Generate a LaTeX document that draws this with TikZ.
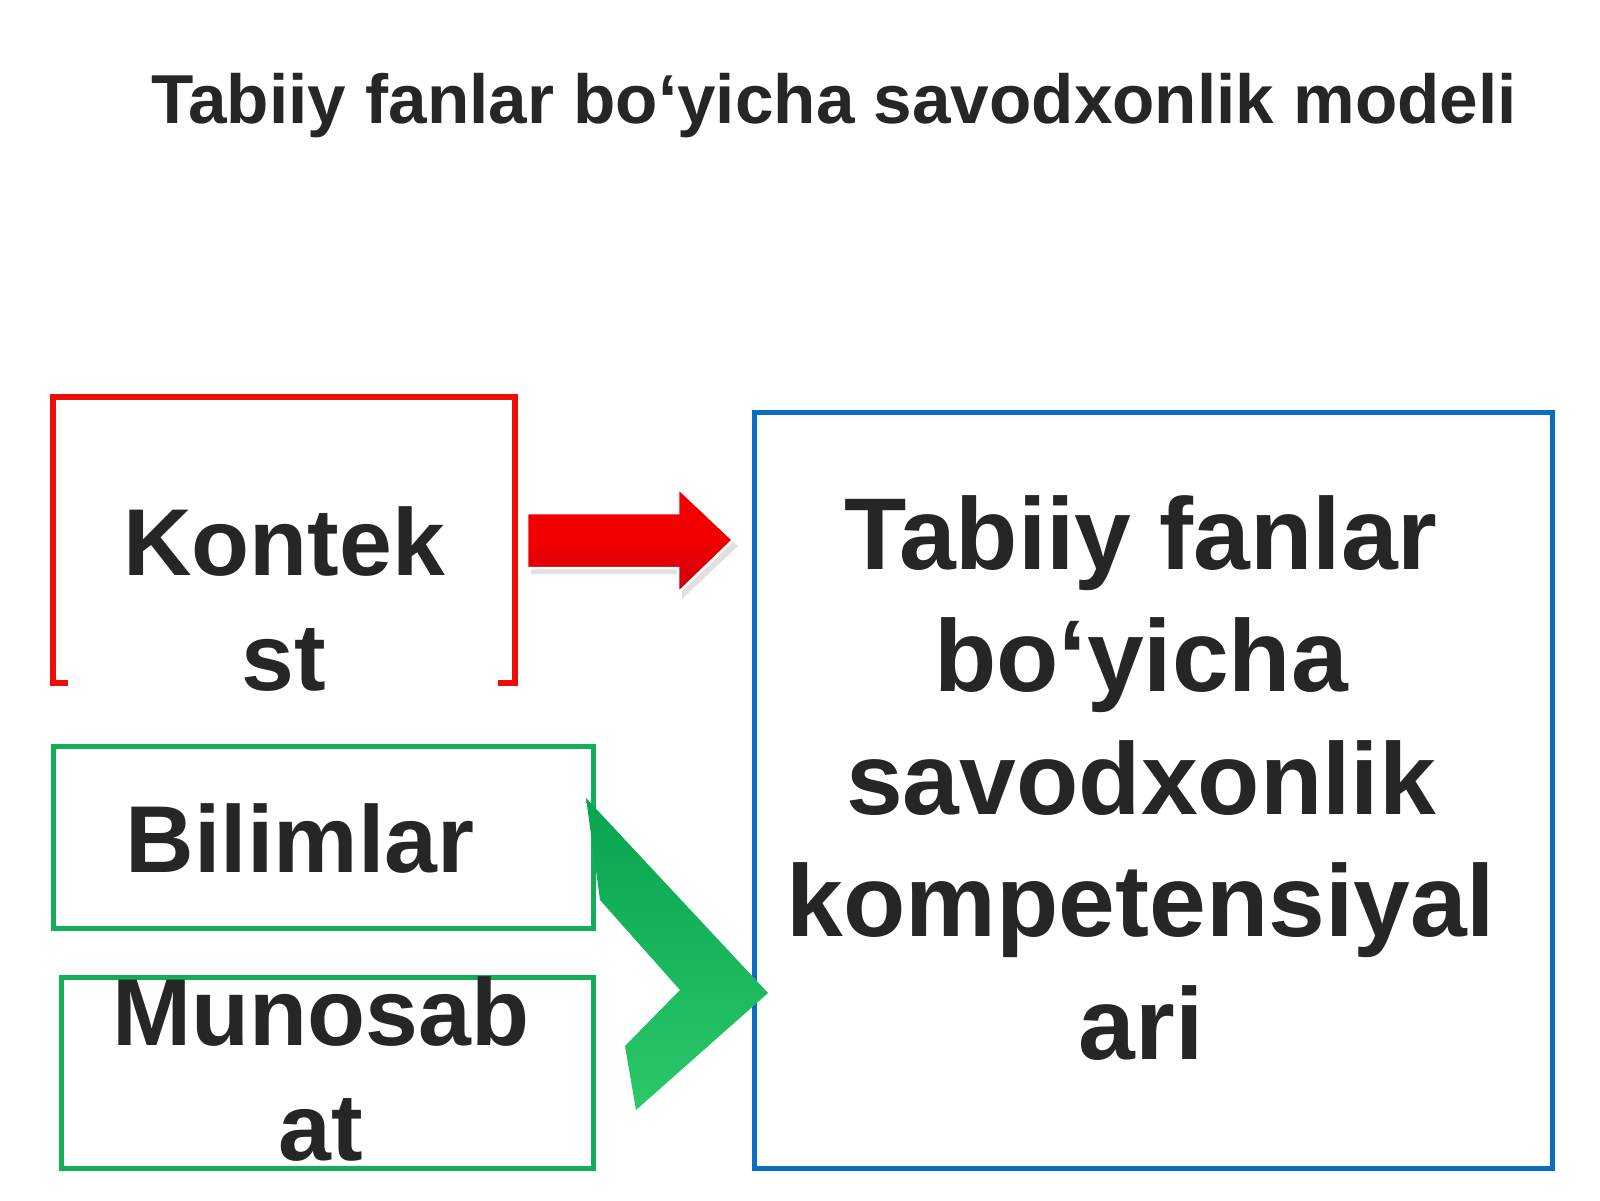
\documentclass[tikz,border=0pt]{standalone}
\usepackage{fontspec}
\setmainfont{Liberation Sans}
\definecolor{txt}{HTML}{262626}
\definecolor{redln}{HTML}{F00A0A}
\definecolor{greenln}{HTML}{12AE5A}
\definecolor{blueln}{HTML}{0A6CC2}
\definecolor{arrowred}{HTML}{F20000}
\definecolor{arrowdark}{HTML}{C80010}
\definecolor{chevtop}{HTML}{06A44E}
\definecolor{chevbot}{HTML}{2BC86A}
\tikzset{
  boxtext/.style={text=txt, font=\bfseries\fontsize{95}{115}\selectfont, align=center, inner sep=0pt},
  bigtext/.style={text=txt, font=\bfseries\fontsize{102}{122.5}\selectfont, align=center, inner sep=0pt},
  titletext/.style={text=txt, font=\bfseries\fontsize{69.3}{82}\selectfont, inner sep=0pt},
  redframe/.style={draw=redln, line width=6pt},
  greenframe/.style={draw=greenln, line width=5pt},
  blueframe/.style={draw=blueln, line width=5pt},
}
\begin{document}
\begin{tikzpicture}[x=1pt,y=-1pt]
\useasboundingbox (0,0) rectangle (1600,1200);
\fill[white] (0,0) rectangle (1600,1200);

% title
\node[titletext, anchor=base] (title) at (834,123) {Tabiiy fanlar bo‘yicha savodxonlik modeli};

% red bracket frame
\draw[redframe] (68,683) -- (53,683) -- (53,397) -- (515,397) -- (515,683) -- (498,683);
\node[boxtext, anchor=base] (kontek) at (284,690) {Kontek\\st};

% green boxes
\draw[greenframe] (53,746) rectangle (593,928);
\node[boxtext, anchor=base] (bilim) at (300,872) {Bilimlar};
\draw[greenframe] (61,977) rectangle (593,1168);
\node[boxtext, anchor=base] (munos) at (321,1160) {Munosab\\at};

% blue box
\draw[blueframe] (754,412) rectangle (1552,1168);
\node[bigtext, anchor=base] (result) at (1141,1059) {Tabiiy fanlar\\bo‘yicha\\savodxonlik\\kompetensiyal\\ari};

% red block arrow
\fill[black, opacity=0.12] (531,518) -- (682,518) -- (682,493) -- (738,546) -- (682,599) -- (682,574) -- (531,574) -- cycle;
\shade[top color=arrowred, bottom color=arrowdark, middle color=arrowred, draw=white, line width=2.5pt]
  (527,513) -- (678,513) -- (678,488) -- (733,540) -- (678,593) -- (678,568) -- (527,568) -- cycle;

% green chevron
\shade[top color=chevtop, bottom color=chevbot]
  (586,798) -- (768,993) -- (636,1110) -- (625,1046) -- (680,990) -- (600,900) -- cycle;
\end{tikzpicture}
\end{document}
